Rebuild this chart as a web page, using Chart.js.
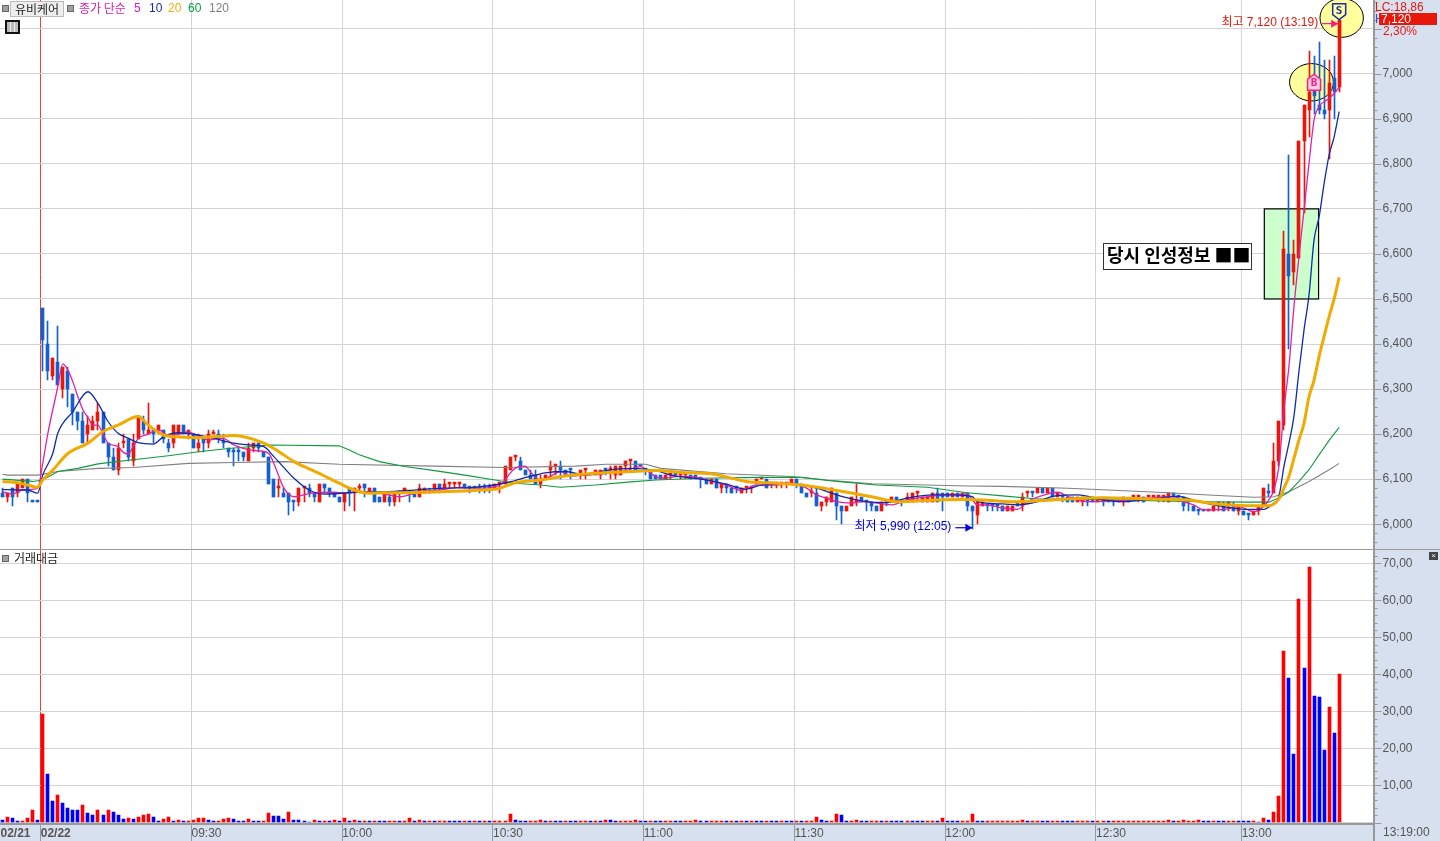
<!DOCTYPE html>
<html>
<head>
<meta charset="utf-8">
<title>유비케어</title>
<script src="https://cdn.jsdelivr.net/npm/chart.js@4"></script>
<style>
  html, body { margin: 0; padding: 0; background: #d6e0ef; overflow: hidden; }
  body { width: 1440px; height: 841px; position: relative; font-family: "Liberation Sans", "Noto Sans CJK KR", sans-serif; }
  canvas { position: absolute; left: 0; }
  .lbl { position: absolute; white-space: nowrap; font-size: 12px; line-height: 14px; z-index: 5; }
  .sq { position: absolute; width: 5px; height: 5px; background: #a0a0a0; border: 1px solid #666; z-index: 5; }
</style>
</head>
<body>
<canvas id="priceChart" width="1440" height="549" style="top:0"></canvas>
<canvas id="volumeChart" width="1440" height="291" style="top:550px"></canvas>
<div style="position:absolute;left:0;top:549px;width:1440px;height:1px;background:#999"></div>
<div style="position:absolute;left:1373px;top:824px;width:2px;height:17px;background:#999"></div>

<div class="sq" style="left:2px;top:5px"></div>
<div class="lbl" style="left:10px;top:1px;width:52px;height:14px;background:#eee;border:1px solid #bbb;text-align:center;color:#222;font-family:'Noto Sans CJK KR';font-size:12px">유비케어</div>
<div class="sq" style="left:67px;top:5px"></div>
<div class="lbl" style="left:79px;top:1px;color:#d81fb0;font-family:'Noto Sans CJK KR';font-size:12px">종가 단순</div>
<div class="lbl" style="left:134px;top:1px;color:#d81fb0">5</div>
<div class="lbl" style="left:149px;top:1px;color:#1a2da8">10</div>
<div class="lbl" style="left:168px;top:1px;color:#eead0e">20</div>
<div class="lbl" style="left:188px;top:1px;color:#0d9a3c">60</div>
<div class="lbl" style="left:209px;top:1px;color:#808080">120</div>
<div style="position:absolute;left:5px;top:20px;width:11px;height:10px;border:2px solid #111;background:repeating-linear-gradient(90deg,#bbb 0 3px,#eee 3px 4px);z-index:5"></div>

<div class="sq" style="left:2px;top:555px"></div>
<div class="lbl" style="left:14px;top:551px;color:#222;font-family:'Noto Sans CJK KR';font-size:12px">거래대금</div>
<div class="lbl" style="left:1429px;top:552px;width:9px;height:8px;background:#444;color:#fff;font-size:8px;line-height:8px;text-align:center">×</div>

<div class="lbl" style="left:1375px;top:0;color:#e8170c">LC:18,86</div>
<div class="lbl" style="left:1375px;top:12px;color:#1560d0">H</div>
<div class="lbl" style="left:1379px;top:13px;width:58px;height:12px;line-height:12px;background:#e8170c;color:#fff;text-indent:2px">7,120</div>
<div class="lbl" style="left:1383px;top:24px;color:#e8170c">2,30%</div>
<div class="lbl" style="left:1383px;top:825px;color:#555">13:19:00</div>

<script>
// Minute candles, index 0-7 are the previous day
const openPrices = [
    6070,6060,6080,6070,6080,6100,6050,6050,6480,6400,
    6330,6360,6300,6340,6290,6250,6230,6200,6210,6230,
    6250,6180,6150,6120,6180,6190,6140,6190,6230,6200,
    6210,6210,6210,6180,6180,6200,6220,6200,6200,6170,
    6190,6180,6200,6200,6180,6170,6160,6160,6160,6140,
    6170,6180,6160,6150,6100,6080,6070,6070,6050,6050,
    6080,6080,6070,6050,6090,6080,6070,6060,6050,6080,
    6070,6080,6090,6070,6080,6060,6050,6060,6050,6070,
    6070,6070,6070,6060,6070,6070,6080,6090,6080,6090,
    6090,6090,6090,6080,6080,6080,6080,6080,6080,6090,
    6090,6120,6150,6140,6120,6110,6110,6090,6100,6120,
    6130,6130,6120,6120,6110,6110,6120,6110,6110,6110,
    6120,6120,6110,6110,6130,6140,6140,6130,6120,6120,
    6110,6110,6100,6110,6110,6110,6110,6110,6110,6100,
    6100,6090,6100,6080,6090,6080,6080,6070,6080,6080,
    6090,6100,6100,6090,6090,6090,6090,6090,6100,6090,
    6070,6070,6070,6040,6050,6050,6070,6040,6030,6040,
    6050,6060,6050,6050,6040,6030,6050,6050,6060,6050,
    6050,6050,6070,6050,6050,6050,6070,6070,6070,6060,
    6070,6060,6070,6040,6020,6040,6040,6040,6040,6040,
    6030,6030,6050,6040,6070,6070,6070,6080,6070,6080,
    6060,6060,6060,6060,6050,6050,6050,6060,6050,6050,
    6050,6050,6050,6050,6050,6060,6060,6060,6060,6060,
    6060,6060,6050,6070,6060,6060,6050,6040,6030,6030,
    6030,6030,6040,6040,6040,6040,6030,6030,6020,6020,
    6030,6040,6070,6070,6140,6220,6600,6560,6590,6850,
    6920,6970,6930,6920,6920,6990,6970
];
const closePrices = [
    6060,6070,6060,6090,6100,6070,6050,6050,6410,6340,
    6370,6310,6350,6300,6250,6230,6180,6220,6230,6250,
    6180,6150,6120,6170,6180,6150,6180,6240,6210,6210,
    6200,6220,6190,6170,6220,6220,6200,6210,6170,6180,
    6180,6200,6200,6190,6180,6160,6160,6160,6150,6170,
    6180,6170,6150,6090,6060,6080,6060,6050,6050,6080,
    6080,6070,6060,6090,6080,6070,6060,6050,6070,6070,
    6080,6080,6080,6080,6050,6050,6070,6050,6070,6070,
    6080,6070,6060,6080,6080,6070,6090,6080,6090,6090,
    6090,6090,6080,6080,6080,6080,6080,6080,6090,6090,
    6130,6150,6150,6120,6110,6100,6090,6100,6110,6130,
    6130,6120,6110,6120,6110,6120,6120,6110,6120,6120,
    6120,6120,6130,6130,6140,6140,6120,6130,6120,6100,
    6100,6100,6110,6110,6110,6110,6110,6100,6100,6100,
    6090,6100,6080,6090,6080,6070,6080,6080,6080,6080,
    6100,6100,6080,6090,6090,6090,6090,6100,6090,6070,
    6060,6070,6040,6050,6060,6080,6040,6030,6040,6060,
    6050,6050,6050,6040,6030,6050,6050,6060,6050,6050,
    6060,6070,6070,6060,6060,6070,6050,6060,6060,6070,
    6060,6070,6040,6030,6050,6050,6040,6040,6040,6030,
    6040,6040,6040,6060,6070,6070,6080,6070,6080,6060,
    6070,6060,6050,6050,6060,6060,6050,6050,6050,6050,
    6050,6050,6050,6060,6050,6060,6060,6050,6060,6060,
    6060,6060,6070,6060,6060,6040,6050,6030,6030,6030,
    6030,6040,6050,6030,6050,6030,6040,6020,6020,6030,
    6040,6080,6070,6140,6230,6610,6550,6600,6850,6930,
    6960,6950,6920,6910,6980,6960,7120
];
const highPrices = [
    6080,6070,6080,6090,6100,6100,6050,6050,6480,6450,
    6370,6440,6350,6350,6290,6250,6250,6240,6240,6270,
    6250,6180,6170,6180,6200,6190,6200,6240,6240,6270,
    6210,6220,6210,6190,6220,6220,6220,6210,6200,6200,
    6190,6210,6210,6210,6200,6170,6170,6170,6160,6180,
    6180,6180,6160,6150,6100,6100,6080,6070,6050,6080,
    6080,6090,6070,6090,6090,6080,6070,6060,6070,6080,
    6080,6090,6090,6080,6080,6060,6070,6070,6070,6070,
    6080,6070,6070,6090,6080,6080,6090,6090,6100,6090,
    6090,6090,6090,6080,6080,6090,6090,6090,6090,6090,
    6130,6150,6150,6150,6120,6120,6120,6110,6110,6140,
    6130,6140,6120,6120,6110,6120,6120,6110,6120,6120,
    6120,6130,6130,6130,6140,6140,6140,6130,6120,6120,
    6110,6110,6110,6120,6110,6110,6110,6110,6110,6100,
    6100,6100,6100,6090,6090,6080,6080,6080,6080,6080,
    6100,6100,6100,6090,6090,6090,6090,6100,6100,6090,
    6070,6080,6080,6050,6060,6080,6070,6040,6040,6060,
    6090,6060,6050,6050,6040,6050,6050,6060,6060,6050,
    6070,6070,6070,6060,6060,6070,6080,6070,6070,6070,
    6070,6070,6070,6040,6050,6050,6040,6040,6040,6040,
    6040,6040,6050,6070,6070,6070,6080,6080,6080,6080,
    6070,6060,6060,6060,6060,6060,6050,6060,6050,6050,
    6050,6050,6050,6060,6050,6060,6060,6060,6060,6060,
    6060,6060,6070,6070,6060,6060,6050,6040,6030,6030,
    6030,6040,6050,6050,6050,6050,6040,6030,6020,6030,
    6040,6080,6090,6180,6230,6650,6820,6630,6850,6930,
    7050,7040,7070,7030,7030,7040,7120
];
const lowPrices = [
    6060,6050,6040,6060,6080,6050,6050,6050,6340,6320,
    6320,6310,6280,6260,6220,6210,6180,6180,6210,6210,
    6180,6130,6120,6110,6170,6140,6130,6190,6200,6200,
    6180,6200,6180,6160,6170,6200,6200,6190,6170,6160,
    6160,6170,6200,6180,6170,6150,6130,6140,6140,6140,
    6160,6160,6150,6090,6060,6060,6060,6020,6030,6040,
    6050,6060,6050,6050,6070,6060,6060,6050,6030,6040,
    6030,6070,6060,6070,6050,6050,6050,6040,6040,6050,
    6070,6050,6060,6060,6070,6070,6070,6070,6080,6080,
    6080,6080,6080,6070,6080,6070,6070,6070,6080,6070,
    6090,6120,6140,6120,6110,6100,6090,6080,6100,6100,
    6110,6100,6110,6100,6110,6100,6100,6110,6110,6100,
    6110,6100,6100,6110,6120,6120,6120,6130,6110,6100,
    6100,6100,6100,6100,6110,6100,6100,6100,6100,6080,
    6090,6090,6080,6070,6070,6070,6070,6070,6070,6070,
    6090,6100,6080,6080,6080,6080,6080,6090,6080,6070,
    6060,6060,6040,6030,6040,6050,6010,6000,6030,6040,
    6040,6050,6030,6030,6030,6030,6040,6050,6050,6040,
    6050,6050,6050,6050,6050,6050,6050,6030,6060,6060,
    6060,6060,6030,5990,6000,6040,6030,6030,6030,6030,
    6030,6030,6040,6030,6060,6060,6070,6070,6070,6060,
    6060,6050,6050,6050,6050,6040,6040,6050,6050,6040,
    6050,6040,6050,6040,6050,6060,6050,6050,6060,6060,
    6050,6050,6050,6060,6050,6030,6030,6030,6020,6030,
    6030,6030,6030,6030,6030,6030,6020,6020,6010,6020,
    6020,6040,6060,6070,6130,6210,6390,6530,6590,6690,
    6860,6910,6910,6900,6810,6900,6960
];
// 1 = red candle, 0 = blue candle (needed for the flat ones)
const candleUp = [
    0,1,0,1,1,0,0,0,0,0, 1,0,1,0,0,0,0,1,1,1, 0,0,0,1,1,0,1,1,0,1,
    0,1,0,0,1,1,0,1,0,1, 0,1,1,0,0,0,0,0,0,1, 1,0,0,0,0,1,0,0,0,1,
    1,0,0,1,0,0,0,0,1,0, 1,1,0,1,0,0,1,0,1,1, 1,0,0,1,1,0,1,0,1,1,
    1,1,0,0,0,0,0,0,1,1, 1,1,1,0,0,0,0,1,1,1, 1,0,0,0,0,1,1,0,1,1,
    0,1,1,1,1,1,0,0,0,0, 0,0,1,1,0,1,1,0,0,0, 0,1,0,1,0,0,0,1,1,1,
    1,1,0,1,1,1,1,1,0,0, 0,1,0,1,1,1,0,0,1,1, 1,0,0,0,0,1,0,1,0,0,
    1,1,1,1,1,1,0,0,0,1, 0,1,0,0,1,1,0,0,0,0, 1,1,0,1,1,0,1,0,1,0,
    1,0,0,0,1,1,0,0,1,0, 0,0,0,1,0,1,1,0,1,1, 1,1,1,0,0,0,0,0,0,0,
    1,1,1,0,1,0,1,0,0,1, 1,1,0,1,1,1,0,1,1,1, 1,0,0,0,1,0,1
];

const volumes = [
    .6,1.4,1.2,.4,.4,1.2,3.3,.6,29.3,13.1,
    5.8,7.4,5.2,3.9,3.3,3.3,4.7,2.5,2.0,3.3,
    2.0,3.3,2.8,2.0,.9,1.2,.9,1.4,2.0,2.3,
    1.4,.4,.9,1.4,.4,.6,.4,.4,.6,1.2,
    1.2,.6,.4,.4,.9,1.2,.9,.4,.4,.9,
    .4,.4,.4,2.5,1.7,1.7,.9,2.8,.6,.6,
    .4,.2,.6,.4,.4,.4,.6,.4,1.2,.5,
    .8,.5,.5,.3,.5,.5,.5,.5,.5,.5,
    .5,1.1,.5,.8,.3,.3,.3,.3,.5,.5,
    .3,.3,.3,.3,.3,.3,.5,.3,.3,.5,
    .5,2.2,.8,.5,.3,.3,.5,.8,.3,.5,
    .5,.3,.5,.3,.3,.3,.3,.3,.5,.5,
    .8,.8,.3,.3,.5,.5,.8,.3,.3,.5,
    .3,.3,.3,.3,.3,.3,.3,.5,.8,.5,
    .3,.3,.3,.5,.3,.3,.3,.5,.3,.5,
    .3,.3,.3,.3,.3,.3,.3,.3,.5,.3,
    .5,.5,1.6,.8,.3,.5,2.4,1.9,.5,.5,
    .8,.3,.3,.5,.5,.5,.3,.3,.3,.3,
    .5,.3,.3,.3,.3,.5,.3,1.1,.3,.3,
    .3,.3,.5,2.4,.5,.3,.3,.3,.3,.3,
    .3,.3,.3,.8,.3,.3,.3,.3,.3,.5,
    .5,.3,.3,.3,.3,.3,.5,.3,.3,.3,
    .3,.5,.3,.3,.3,.3,.3,.3,.3,.3,
    .3,.3,.8,.3,.5,.8,.3,.3,.8,.3,
    .3,.5,.5,.3,.3,.5,.5,.3,.3,.4,
    .2,1.2,.6,2.8,7.1,46.3,39.0,18.5,60.4,41.7,
    69.0,34.1,33.9,19.5,31.2,24.1,40.1
];
const volumeUp = [
    0,1,0,0,1,1,1,0,1,0, 0,1,0,0,0,0,1,0,0,1, 0,1,0,0,0,1,0,1,1,1,
    0,0,1,1,0,1,0,1,1,1, 1,0,0,1,1,1,0,0,0,1, 0,0,1,1,0,0,0,1,0,0,
    0,0,1,0,1,0,1,0,1,0, 1,0,1,0,1,0,0,1,1,0, 1,1,0,1,0,1,0,1,1,0,
    0,0,1,0,1,0,1,0,1,1, 1,1,0,0,0,1,1,1,0,1, 0,0,1,0,0,1,1,0,1,0,
    1,0,0,1,1,1,1,0,0,1, 0,0,1,1,0,0,1,1,1,0, 0,1,1,1,0,1,0,1,0,1,
    0,0,1,0,0,1,0,0,1,0, 1,1,1,0,0,1,1,0,0,1, 1,0,0,1,1,0,1,0,0,0,
    1,0,0,0,1,1,0,1,0,0, 0,1,1,1,0,0,1,1,1,1, 1,1,1,1,0,1,1,0,0,1,
    1,0,0,0,1,1,1,0,1,1, 0,1,1,1,1,1,1,1,1,1, 1,1,1,0,1,1,1,1,1,0,
    0,1,0,0,1,1,0,0,0,1, 0,1,0,1,1,1,0,0,1,0, 1,0,0,0,1,0,1
];

// Moving averages as [candle index, price]
const ma5Points = [[0,6072],[2,6067],[4,6076],[7,6080],[8,6135],[9,6200],[11,6305],[12,6356],[13,6342],[14,6316],[15,6283],[16,6254],[17,6237],[18,6220],[19,6220],[20,6200],[21,6180],[23,6172],[24,6160],[25,6156],[26,6172],[27,6190],[29,6200],[31,6210],[33,6197],[35,6200],[37,6205],[39,6195],[41,6187],[43,6190],[44,6190],[46,6176],[49,6165],[51,6163],[53,6157],[54,6135],[56,6080],[58,6061],[61,6068],[66,6071],[68,6069],[73,6072],[76,6067],[79,6061],[83,6072],[87,6076],[91,6082],[95,6080],[99,6087],[100,6098],[101,6113],[102,6124],[104,6129],[105,6117],[107,6098],[109,6106],[111,6117],[113,6107],[116,6109],[120,6113],[124,6119],[127,6128],[129,6113],[131,6102],[135,6106],[138,6104],[144,6087],[147,6075],[150,6087],[154,6087],[157,6091],[160,6080],[162,6065],[164,6058],[166,6050],[169,6047],[171,6050],[174,6047],[177,6043],[180,6054],[184,6061],[188,6065],[192,6067],[193,6054],[194,6043],[196,6043],[199,6036],[202,6033],[204,6050],[206,6060],[210,6071],[212,6062],[216,6050],[223,6053],[228,6058],[233,6062],[235,6050],[237,6043],[239,6032],[243,6033],[246,6039],[249,6028],[251,6040],[252,6054],[253,6076],[254,6128],[255,6254],[256,6350],[257,6483],[258,6594],[259,6697],[260,6801],[261,6897],[262,6927],[264,6945],[265,6956],[266,6970]];
const ma10Points = [[0,6077],[3,6076],[5,6076],[7,6069],[8,6109],[10,6157],[11,6202],[14,6250],[17,6294],[19,6268],[21,6228],[23,6202],[25,6191],[27,6181],[30,6178],[32,6194],[35,6203],[39,6198],[42,6191],[46,6180],[49,6176],[52,6172],[54,6150],[58,6102],[61,6076],[64,6067],[69,6070],[71,6072],[76,6072],[83,6077],[88,6080],[94,6082],[100,6091],[102,6097],[105,6106],[108,6114],[112,6117],[116,6109],[120,6119],[125,6124],[130,6119],[133,6109],[139,6100],[144,6089],[148,6078],[151,6087],[157,6089],[162,6080],[165,6069],[168,6059],[172,6050],[176,6048],[180,6058],[185,6065],[189,6065],[193,6061],[194,6050],[199,6045],[202,6043],[206,6050],[209,6062],[214,6065],[219,6054],[223,6050],[230,6058],[234,6062],[238,6050],[243,6039],[248,6033],[251,6033],[253,6047],[254,6061],[255,6128],[256,6180],[257,6240],[258,6340],[259,6431],[260,6509],[261,6631],[262,6682],[263,6756],[264,6820],[265,6860],[266,6916]];
const ma20Points = [[0,6095],[3,6092],[5,6087],[7,6082],[8,6098],[10,6120],[13,6157],[17,6180],[20,6206],[23,6220],[27,6239],[29,6220],[32,6198],[35,6194],[39,6192],[46,6197],[52,6180],[55,6161],[58,6139],[63,6113],[67,6091],[70,6076],[73,6069],[76,6070],[80,6070],[87,6072],[94,6075],[99,6080],[102,6092],[107,6098],[112,6107],[118,6113],[125,6117],[130,6119],[135,6115],[141,6112],[148,6095],[154,6091],[159,6087],[166,6075],[173,6061],[178,6050],[186,6054],[191,6055],[195,6054],[201,6050],[209,6054],[219,6059],[228,6056],[236,6054],[240,6047],[248,6041],[252,6041],[254,6056],[255,6080],[256,6106],[257,6146],[258,6187],[259,6224],[260,6283],[261,6320],[262,6372],[263,6417],[264,6461],[265,6500],[266,6548]];
const ma60Points = [[0,6100],[6,6095],[8,6098],[11,6117],[15,6124],[19,6134],[26,6143],[33,6152],[39,6161],[45,6168],[53,6176],[67,6174],[69,6165],[71,6154],[75,6139],[80,6128],[86,6119],[92,6109],[98,6098],[102,6091],[107,6087],[111,6082],[118,6087],[125,6094],[130,6098],[139,6102],[151,6104],[159,6104],[166,6095],[174,6087],[184,6082],[192,6070],[199,6063],[206,6056],[212,6056],[226,6053],[239,6050],[248,6049],[252,6049],[254,6058],[256,6072],[258,6095],[260,6121],[262,6154],[264,6186],[266,6215]];
const ma120Points = [[0,6111],[1,6109],[7,6109],[11,6117],[19,6124],[26,6126],[37,6135],[46,6137],[56,6139],[67,6133],[86,6129],[100,6126],[114,6129],[120,6133],[128,6133],[131,6124],[144,6112],[157,6106],[164,6098],[173,6090],[184,6087],[192,6085],[199,6084],[212,6080],[220,6076],[232,6070],[240,6065],[249,6060],[253,6061],[256,6072],[260,6095],[264,6121],[266,6135]];

const timeTickIndex = [0, 8, 38, 68, 98, 128, 158, 188, 218, 247];
const timeTickLabels = ['02/21', '02/22', '09:30', '10:00', '10:30', '11:00', '11:30', '12:00', '12:30', '13:00'];

// Gridlines sit a little left of the candle they label
const gridShift = 0.4;
const xMin = -0.5;
const xMax = 272.83;
const axisFont = '"Liberation Sans", sans-serif';

const candleColor = i => candleUp[i] ? '#e8170c' : '#1560d0';
const toXY = pts => pts.map(p => ({ x: p[0], y: p[1] }));

function xAxis(showLabels) {
    return {
        type: 'linear',
        min: xMin,
        max: xMax,
        offset: false,
        bounds: 'data',
        afterBuildTicks: axis => {
            axis.ticks = timeTickIndex.map(v => ({ value: v - gridShift }));
        },
        afterFit: axis => {
            axis.height = showLabels ? 17 : 0;
            axis.paddingLeft = 0;
            axis.paddingRight = 0;
        },
        border: { display: showLabels, color: '#999', width: 2 },
        grid: {
            offset: false,
            color: ctx => ctx.index === 0 ? 'transparent' : (ctx.index === 1 ? '#e8403c' : '#d4d4d4'),
            tickColor: ctx => ctx.index === 0 ? 'transparent' : '#999',
            tickLength: 17,
            drawTicks: showLabels
        },
        ticks: {
            display: showLabels,
            autoSkip: false,
            maxRotation: 0,
            align: 'start',
            padding: -15,
            color: '#555',
            font: ctx => ({ family: axisFont, size: 12, weight: ctx.index < 2 ? 'bold' : 'normal' }),
            callback: (v, i) => timeTickLabels[i]
        }
    };
}

function yAxis(min, max, step, majorStep, label) {
    return {
        position: 'right',
        min: min,
        max: max,
        bounds: 'data',
        afterBuildTicks: axis => {
            const list = [];
            for (let v = Math.ceil(min / step) * step; v <= max; v += step) list.push({ value: v });
            axis.ticks = list;
        },
        afterFit: axis => {
            axis.width = 66.5;
            axis.paddingTop = 0;
            axis.paddingBottom = 0;
        },
        border: { display: true, color: '#999', width: 2 },
        grid: {
            z: -1,
            drawTicks: false,
            color: ctx => ctx.tick.value % majorStep === 0 ? '#d4d4d4' : 'transparent'
        },
        ticks: {
            autoSkip: false,
            padding: 9,
            color: '#555',
            font: { family: axisFont, size: 12 },
            callback: label
        }
    };
}

// white plot area, the page colour shows in the axis strips
const plotBackground = {
    id: 'plotBackground',
    beforeDraw(chart) {
        const a = chart.chartArea;
        chart.ctx.fillStyle = '#fff';
        chart.ctx.fillRect(a.left, a.top, a.right - a.left, a.bottom - a.top);
    }
};

// the reference has hard pixel edges, so snap the bars to whole pixels
const snapBars = {
    id: 'snapBars',
    afterDatasetsUpdate(chart) {
        chart.getSortedVisibleDatasetMetas().forEach(meta => {
            if (meta.type !== 'bar') return;
            meta.data.forEach(bar => {
                bar.x = Math.floor(bar.x) + 0.5;
                bar.y = Math.round(bar.y);
                bar.base = Math.round(bar.base);
            });
        });
    }
};

// long and short marks on the value axis
const axisMarks = {
    id: 'axisMarks',
    afterDraw(chart, args, opts) {
        const ctx = chart.ctx, y = chart.scales.y, right = chart.chartArea.right;
        ctx.strokeStyle = '#999';
        ctx.lineWidth = 1;
        y.ticks.forEach(t => {
            const py = Math.round(y.getPixelForValue(t.value)) + 0.5;
            ctx.beginPath();
            ctx.moveTo(right, py);
            ctx.lineTo(right + (t.value % opts.major === 0 ? 8 : 4), py);
            ctx.stroke();
        });
    }
};

function marker(ctx, cx, top, up, stroke, fill, letter, letterColor) {
    const w = 6.5, h = 16, s = 5;
    ctx.beginPath();
    if (up) {
        ctx.moveTo(cx, top); ctx.lineTo(cx + w, top + s); ctx.lineTo(cx + w, top + h);
        ctx.lineTo(cx - w, top + h); ctx.lineTo(cx - w, top + s);
    } else {
        ctx.moveTo(cx - w, top); ctx.lineTo(cx + w, top); ctx.lineTo(cx + w, top + h - s);
        ctx.lineTo(cx, top + h); ctx.lineTo(cx - w, top + h - s);
    }
    ctx.closePath();
    ctx.fillStyle = fill; ctx.fill();
    ctx.strokeStyle = stroke; ctx.lineWidth = 1.5; ctx.stroke();
    ctx.fillStyle = letterColor;
    ctx.font = 'bold 11px "DejaVu Sans Mono", monospace';
    ctx.textAlign = 'center';
    ctx.textBaseline = 'middle';
    ctx.fillText(letter, cx, top + (up ? 9 : 7));
}

function arrow(ctx, x0, x1, y, color) {
    const dir = x1 > x0 ? 1 : -1;
    ctx.strokeStyle = color; ctx.fillStyle = color; ctx.lineWidth = 1.2;
    ctx.beginPath(); ctx.moveTo(x0, y); ctx.lineTo(x1, y); ctx.stroke();
    ctx.beginPath(); ctx.moveTo(x1, y); ctx.lineTo(x1 - 7 * dir, y - 4); ctx.lineTo(x1 - 7 * dir, y + 4);
    ctx.closePath(); ctx.fill();
}

const priceNotes = {
    id: 'priceNotes',
    beforeDatasetsDraw(chart) {
        const ctx = chart.ctx, x = chart.scales.x, y = chart.scales.y;
        // green box behind the candles
        const bx = x.getPixelForValue(251.1), bw = x.getPixelForValue(261.9) - bx;
        const by = y.getPixelForValue(6700), bh = y.getPixelForValue(6500) - by;
        ctx.fillStyle = '#ccffcc';
        ctx.fillRect(bx, by, bw, bh);
        ctx.strokeStyle = '#000'; ctx.lineWidth = 1.2;
        ctx.strokeRect(bx, by, bw, bh);
        // yellow buy and sell circles
        [[260.5, 6981, 22, 18.7], [266.5, 7124, 21.7, 19.5]].forEach(e => {
            ctx.beginPath();
            ctx.ellipse(x.getPixelForValue(e[0]), y.getPixelForValue(e[1]), e[2], e[3], 0, 0, Math.PI * 2);
            ctx.fillStyle = '#ffff9e'; ctx.fill();
            ctx.strokeStyle = '#000'; ctx.lineWidth = 1; ctx.stroke();
        });
    },
    afterDatasetsDraw(chart) {
        const ctx = chart.ctx, x = chart.scales.x, y = chart.scales.y;
        ctx.save();
        marker(ctx, x.getPixelForValue(261), y.getPixelForValue(6981) - 8, true, '#ff1a80', '#ffd0e4', 'B', '#ff1a80');
        marker(ctx, x.getPixelForValue(266), y.getPixelForValue(7120) - 16, false, '#1a2da8', '#ffff9e', 'S', '#1a2da8');

        const hiX = x.getPixelForValue(266), hiY = y.getPixelForValue(7120) + 4;
        arrow(ctx, hiX - 17, hiX - 1, hiY, '#ff1a80');
        ctx.font = '12px ' + axisFont + ', "Noto Sans CJK KR"';
        ctx.textBaseline = 'middle';
        ctx.textAlign = 'right';
        ctx.fillStyle = '#e8170c';
        ctx.fillText('최고 7,120 (13:19)', hiX - 21, hiY - 1);

        const loX = x.getPixelForValue(193), loY = y.getPixelForValue(5990);
        arrow(ctx, loX - 17, loX, loY - 1, '#0000e0');
        ctx.fillStyle = '#0000e0';
        ctx.fillText('최저 5,990 (12:05)', loX - 21, loY - 2);

        // news caption box
        ctx.fillStyle = '#fff';
        ctx.fillRect(1103, 243, 149, 27);
        ctx.strokeStyle = '#333'; ctx.lineWidth = 1;
        ctx.strokeRect(1103.5, 243.5, 148, 26);
        ctx.fillStyle = '#000';
        ctx.font = 'bold 18px "Noto Sans CJK KR"';
        ctx.textAlign = 'left';
        ctx.fillText('당시 인성정보 ■■', 1107, 255);
        ctx.restore();
    }
};

new Chart(document.getElementById('priceChart'), {
    type: 'bar',
    data: {
        datasets: [
            { type: 'line', label: '5', data: toXY(ma5Points), borderColor: '#e020a8', borderWidth: 1.3, pointRadius: 0, cubicInterpolationMode: 'monotone', order: 3 },
            { type: 'line', label: '10', data: toXY(ma10Points), borderColor: '#0f2aa8', borderWidth: 1.3, pointRadius: 0, cubicInterpolationMode: 'monotone', order: 2 },
            { type: 'line', label: '20', data: toXY(ma20Points), borderColor: '#f0aa00', borderWidth: 3, pointRadius: 0, cubicInterpolationMode: 'monotone', order: 1 },
            { type: 'line', label: '60', data: toXY(ma60Points), borderColor: '#0d9a3c', borderWidth: 1.1, pointRadius: 0, order: 4 },
            { type: 'line', label: '120', data: toXY(ma120Points), borderColor: '#808080', borderWidth: 1.1, pointRadius: 0, order: 5 },
            {
                label: 'body',
                data: openPrices.map((o, i) => ({ x: i, y: [o, closePrices[i]] })),
                backgroundColor: openPrices.map((o, i) => candleColor(i)),
                barThickness: 3,
                minBarLength: 2,
                grouped: false,
                order: 10
            },
            {
                label: 'wick',
                data: highPrices.map((h, i) => ({ x: i, y: [lowPrices[i], h] })),
                backgroundColor: highPrices.map((h, i) => candleColor(i)),
                barThickness: 1,
                grouped: false,
                order: 11
            }
        ]
    },
    options: {
        responsive: false,
        animation: false,
        layout: { padding: 0 },
        plugins: { legend: { display: false }, tooltip: { enabled: false }, axisMarks: { major: 100 } },
        scales: {
            x: xAxis(false),
            y: yAxis(5945, 7163.6, 20, 100, v => (v % 100 === 0 && v <= 7000) ? v.toLocaleString('en-US') : '')
        }
    },
    plugins: [plotBackground, snapBars, axisMarks, priceNotes]
});

new Chart(document.getElementById('volumeChart'), {
    type: 'bar',
    data: {
        datasets: [{
            label: '거래대금',
            data: volumes.map((v, i) => ({ x: i, y: v })),
            backgroundColor: volumes.map((v, i) => volumeUp[i] ? '#ff0000' : '#0000ff'),
            barThickness: 3,
            grouped: false
        }]
    },
    options: {
        responsive: false,
        animation: false,
        layout: { padding: 0 },
        plugins: { legend: { display: false }, tooltip: { enabled: false }, axisMarks: { major: 10 } },
        scales: {
            x: xAxis(true),
            y: yAxis(-0.4, 73.6, 2, 10, v => (v > 0 && v % 10 === 0) ? v + ',00' : '')
        }
    },
    plugins: [plotBackground, snapBars, axisMarks]
});
</script>
</body>
</html>
